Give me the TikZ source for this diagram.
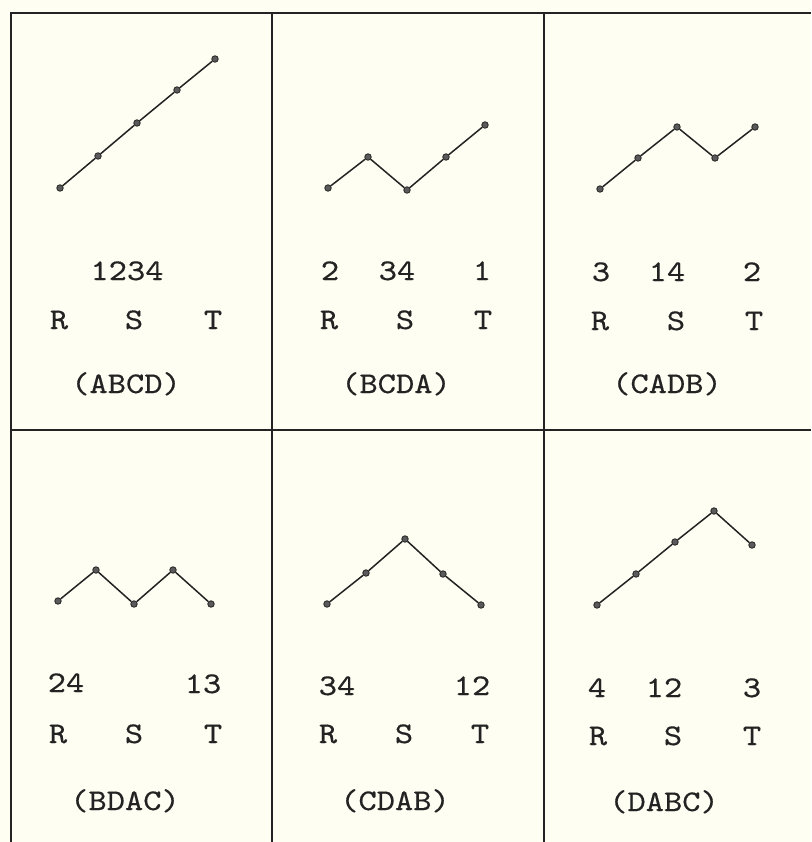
\documentclass[tikz,border=0pt]{standalone}
\usepackage{fontspec}
\newfontfamily\twfont{lmmono10-regular.otf}[FakeBold=0.4,FakeStretch=1.16]
\definecolor{paper}{RGB}{254,254,242}
\definecolor{ink}{RGB}{35,35,35}
\newcommand{\tw}[1]{#1}
\begin{document}
\begin{tikzpicture}[x=1pt,y=-1pt,
  dot/.style={circle,fill=ink!75,draw=ink,line width=0.8pt,inner sep=0pt,minimum size=6.5pt},
  txt/.style={font=\twfont\fontsize{30}{33}\selectfont,text=ink,inner sep=0pt,anchor=base},
  gridline/.style={draw=ink,line width=1.5pt},
  link/.style={draw=ink,line width=1.5pt}]
\fill[paper] (0,0) rectangle (811,842);
\useasboundingbox (0,0) rectangle (811,842);
% grid
\coordinate (tl) at (11,13);
\coordinate (tr) at (811,13);
\coordinate (bl) at (11,842);
\coordinate (ml) at (11,430);
\coordinate (mr) at (811,430);
\coordinate (v1t) at (272,13);
\coordinate (v1b) at (272,842);
\coordinate (v2t) at (544,13);
\coordinate (v2b) at (544,842);
\draw[gridline] (bl) -- (tl) -- (tr);
\draw[gridline] (ml) -- (mr);
\draw[gridline] (v1t) -- (v1b);
\draw[gridline] (v2t) -- (v2b);

% panel 1 (ABCD)
\node[dot] (a1) at (60,188) {};
\node[dot] (a2) at (98,156) {};
\node[dot] (a3) at (137,123) {};
\node[dot] (a4) at (177,90) {};
\node[dot] (a5) at (215,59) {};
\draw[link] (a1) -- (a2) -- (a3) -- (a4) -- (a5);
\node[txt] (an) at (127,280) {\tw{1234}};
\node[txt] (aR) at (59,329) {\tw{R}};
\node[txt] (aS) at (134,329) {\tw{S}};
\node[txt] (aT) at (213,329) {\tw{T}};
\node[txt] (aL) at (126,393) {\tw{(ABCD)}};

% panel 2 (BCDA)
\node[dot] (b1) at (328,188) {};
\node[dot] (b2) at (368,157) {};
\node[dot] (b3) at (407,190) {};
\node[dot] (b4) at (446,157) {};
\node[dot] (b5) at (485,125) {};
\draw[link] (b1) -- (b2) -- (b3) -- (b4) -- (b5);
\node[txt] (bn1) at (330,280) {\tw{2}};
\node[txt] (bn2) at (397,280) {\tw{34}};
\node[txt] (bn3) at (482,280) {\tw{1}};
\node[txt] (bR) at (329,329) {\tw{R}};
\node[txt] (bS) at (405,329) {\tw{S}};
\node[txt] (bT) at (483,329) {\tw{T}};
\node[txt] (bL) at (396,393) {\tw{(BCDA)}};

% panel 3 (CADB)
\node[dot] (c1) at (600,189) {};
\node[dot] (c2) at (638,158) {};
\node[dot] (c3) at (677,127) {};
\node[dot] (c4) at (715,158) {};
\node[dot] (c5) at (755,127) {};
\draw[link] (c1) -- (c2) -- (c3) -- (c4) -- (c5);
\node[txt] (cn1) at (601,281) {\tw{3}};
\node[txt] (cn2) at (667,281) {\tw{14}};
\node[txt] (cn3) at (752,281) {\tw{2}};
\node[txt] (cR) at (600,330) {\tw{R}};
\node[txt] (cS) at (676,330) {\tw{S}};
\node[txt] (cT) at (754,330) {\tw{T}};
\node[txt] (cL) at (667,393) {\tw{(CADB)}};

% panel 4 (BDAC)
\node[dot] (d1) at (58,601) {};
\node[dot] (d2) at (96,570) {};
\node[dot] (d3) at (134,604) {};
\node[dot] (d4) at (173,570) {};
\node[dot] (d5) at (211,604) {};
\draw[link] (d1) -- (d2) -- (d3) -- (d4) -- (d5);
\node[txt] (dn1) at (66,692) {\tw{24}};
\node[txt] (dn2) at (203,693) {\tw{13}};
\node[txt] (dR) at (58,743) {\tw{R}};
\node[txt] (dS) at (134,743) {\tw{S}};
\node[txt] (dT) at (213,743) {\tw{T}};
\node[txt] (dL) at (125,810) {\tw{(BDAC)}};

% panel 5 (CDAB)
\node[dot] (e1) at (327,604) {};
\node[dot] (e2) at (366,573) {};
\node[dot] (e3) at (405,539) {};
\node[dot] (e4) at (443,574) {};
\node[dot] (e5) at (481,605) {};
\draw[link] (e1) -- (e2) -- (e3) -- (e4) -- (e5);
\node[txt] (en1) at (337,695) {\tw{34}};
\node[txt] (en2) at (472,695) {\tw{12}};
\node[txt] (eR) at (328,743) {\tw{R}};
\node[txt] (eS) at (404,743) {\tw{S}};
\node[txt] (eT) at (480,743) {\tw{T}};
\node[txt] (eL) at (395,810) {\tw{(CDAB)}};

% panel 6 (DABC)
\node[dot] (f1) at (597,605) {};
\node[dot] (f2) at (636,574) {};
\node[dot] (f3) at (675,542) {};
\node[dot] (f4) at (714,511) {};
\node[dot] (f5) at (752,545) {};
\draw[link] (f1) -- (f2) -- (f3) -- (f4) -- (f5);
\node[txt] (fn1) at (597,697) {\tw{4}};
\node[txt] (fn2) at (664,697) {\tw{12}};
\node[txt] (fn3) at (752,697) {\tw{3}};
\node[txt] (fR) at (598,745) {\tw{R}};
\node[txt] (fS) at (673,745) {\tw{S}};
\node[txt] (fT) at (752,745) {\tw{T}};
\node[txt] (fL) at (664,811) {\tw{(DABC)}};
\end{tikzpicture}
\end{document}
